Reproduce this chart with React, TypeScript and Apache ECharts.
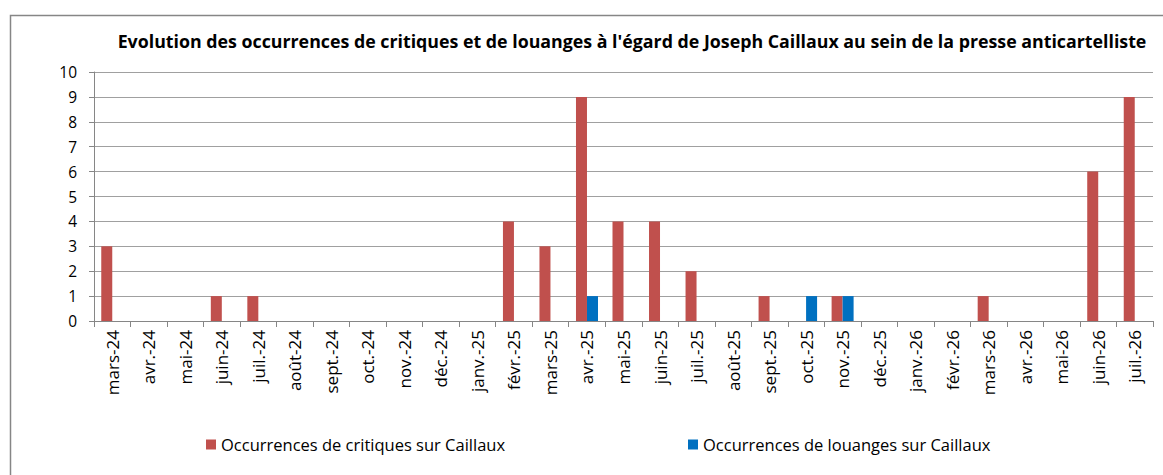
import React, { useEffect, useRef } from "react";
import * as echarts from "echarts";

const categories = [
  "mars-24", "avr.-24", "mai-24", "juin-24", "juil.-24", "août-24", "sept.-24", "oct.-24",
  "nov.-24", "déc.-24", "janv.-25", "févr.-25", "mars-25", "avr.-25", "mai-25", "juin-25",
  "juil.-25", "août-25", "sept.-25", "oct.-25", "nov.-25", "déc.-25", "janv.-26", "févr.-26",
  "mars-26", "avr.-26", "mai-26", "juin-26", "juil.-26",
];
const critiques = [3, 0, 0, 1, 1, 0, 0, 0, 0, 0, 0, 4, 3, 9, 4, 4, 2, 0, 1, 0, 1, 0, 0, 0, 1, 0, 0, 6, 9];
const louanges = [0, 0, 0, 0, 0, 0, 0, 0, 0, 0, 0, 0, 0, 1, 0, 0, 0, 0, 0, 1, 1, 0, 0, 0, 0, 0, 0, 0, 0];
const yTicks = [0, 10, 1];

const FONT = "'Open Sans', 'Noto Sans', sans-serif";
const NAME_C = "Occurrences de critiques sur Caillaux";
const NAME_L = "Occurrences de louanges sur Caillaux";

export default function App() {
  const ref = useRef<HTMLDivElement>(null);
  useEffect(() => {
    if (!ref.current) return;
    const chart = echarts.init(ref.current, null, { renderer: "svg" });
    const legendText = { fontFamily: FONT, fontSize: 16.5, color: "#000", padding: [0, 0, 0, 0] };
    chart.setOption({
      animation: false,
      backgroundColor: "#ffffff",
      textStyle: { fontFamily: FONT },
      graphic: [
        {
          type: "rect",
          shape: { x: 10.5, y: 15.5, width: 1170, height: 480 },
          style: { fill: "none", stroke: "#868686", lineWidth: 1.5 },
          silent: true,
        },
      ],
      title: {
        text: "Evolution des occurrences de critiques et de louanges à l'égard de Joseph Caillaux au sein de la presse anticartelliste",
        left: 627,
        textAlign: "center",
        top: 27,
        textStyle: { fontFamily: FONT, fontSize: 17.8, fontWeight: "bold", color: "#000" },
      },
      legend: [
        {
          data: [{ name: NAME_C }],
          left: 201,
          top: 431,
          itemWidth: 10,
          itemHeight: 10,
          itemGap: 5,
          icon: "rect",
          textStyle: legendText,
        },
        {
          data: [{ name: NAME_L }],
          left: 683,
          top: 431,
          itemWidth: 10,
          itemHeight: 10,
          itemGap: 5,
          icon: "rect",
          textStyle: legendText,
        },
      ],
      grid: { left: 94, right: 10, top: 72, height: 249, containLabel: false },
      xAxis: {
        type: "category",
        data: categories,
        axisLine: { lineStyle: { color: "#868686" } },
        axisTick: { show: true, length: 6, alignWithLabel: false, lineStyle: { color: "#868686" } },
        axisLabel: { rotate: 90, interval: 0, fontSize: 17, color: "#000", margin: 9, fontFamily: FONT },
      },
      yAxis: {
        type: "value",
        min: yTicks[0],
        max: yTicks[1],
        interval: yTicks[2],
        axisLine: { show: true, lineStyle: { color: "#868686" } },
        axisTick: { show: true, length: 5, lineStyle: { color: "#868686" } },
        splitLine: { lineStyle: { color: "#a0a0a0" } },
        axisLabel: { fontSize: 15.5, color: "#000", margin: 17, fontFamily: FONT },
      },
      series: [
        {
          name: NAME_C,
          type: "bar",
          data: critiques,
          barWidth: 11,
          barGap: "0%",
          itemStyle: { color: "#C0504D" },
        },
        {
          name: NAME_L,
          type: "bar",
          data: louanges,
          barWidth: 11,
          itemStyle: { color: "#0070C0" },
        },
      ],
    });
    return () => chart.dispose();
  }, []);
  return <div ref={ref} style={{ width: 1163, height: 475, position: "absolute", left: 0, top: 0 }} />;
}
